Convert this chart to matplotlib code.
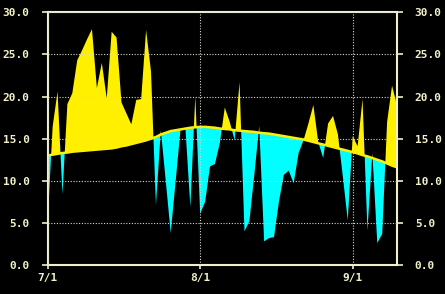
import numpy as np
import matplotlib
matplotlib.use('Agg')
import matplotlib.pyplot as plt

# daily mean temperature, 7/1 .. 9/10 (day index 0 = 7/1)
actual = [5.2, 16.4, 20.6, 8.4, 19.1, 20.4, 24.3, 25.5, 26.8, 28.0,
          21.0, 24.0, 19.8, 27.7, 27.0, 19.3, 18.0, 16.7, 19.6, 19.7,
          27.9, 23.0, 7.1, 16.0, 10.0, 3.8, 9.9, 16.1, 16.2, 6.9,
          20.0, 6.1, 7.5, 11.7, 12.0, 14.5, 18.7, 17.0, 14.8, 21.7,
          4.0, 5.2, 10.7, 16.5, 2.8, 3.2, 3.3, 7.5, 10.7, 11.2,
          9.7, 13.3, 14.8, 16.8, 19.0, 14.6, 12.7, 16.8, 17.7, 15.5,
          10.5, 5.3, 15.3, 14.1, 19.7, 4.1, 13.3, 2.6, 3.7, 17.0,
          21.3, 19.0]

# normal (average year) values
normal = [13.0, 13.1, 13.2, 13.3, 13.35, 13.45, 13.5, 13.55, 13.6, 13.65,
          13.7, 13.75, 13.8, 13.85, 13.95, 14.1, 14.2, 14.35, 14.5, 14.65,
          14.8, 15.0, 15.2, 15.5, 15.7, 15.9, 16.0, 16.1, 16.2, 16.3,
          16.35, 16.4, 16.4, 16.35, 16.3, 16.2, 16.15, 16.1, 16.0, 15.95,
          15.9, 15.85, 15.8, 15.7, 15.65, 15.6, 15.5, 15.4, 15.3, 15.2,
          15.1, 15.0, 14.9, 14.75, 14.6, 14.45, 14.3, 14.15, 14.0, 13.85,
          13.7, 13.55, 13.4, 13.25, 13.05, 12.9, 12.7, 12.5, 12.3, 12.05,
          11.8, 11.6]

xtick_pos = [0, 31, 62]
xtick_labels = ['7/1', '8/1', '9/1']
ytick_vals = [0, 5, 10, 15, 20, 25, 30]

days = np.arange(len(actual))
act = np.array(actual)
nor = np.array(normal)

fg = '#F2F0C8'
yellow = '#FFF000'
cyan = '#00FFFF'

fig = plt.figure(figsize=(4.45, 2.94), dpi=100, facecolor='black')
ax = fig.add_axes([0.1072, 0.0986, 0.7843, 0.8595])
ax.set_facecolor('black')

ax.fill_between(days, nor, act, where=act >= nor, interpolate=True,
                color=yellow, linewidth=0)
ax.fill_between(days, nor, act, where=act <= nor, interpolate=True,
                color=cyan, linewidth=0)
ax.plot(days, nor, color=yellow, linewidth=1.8)

ax.set_xlim(0, 70.95)
ax.set_ylim(0, 30)

ax.set_xticks(xtick_pos)
ax.set_xticklabels(xtick_labels)
ax.set_yticks(ytick_vals)
ax.set_yticklabels(['%.1f' % v for v in ytick_vals])

ax.grid(True, color='#D8D8C8', linestyle=(0, (1, 1.5)), linewidth=0.8)
ax.set_axisbelow(False)

for s in ax.spines.values():
    s.set_color(fg)
    s.set_linewidth(1.5)

ax.tick_params(axis='both', colors=fg, labelsize=8, width=1.2)
ax.tick_params(axis='y', length=4, pad=9, left=True, right=True,
               labelleft=True, labelright=True)
ax.tick_params(axis='x', length=3, pad=3)
for lab in ax.get_xticklabels() + ax.get_yticklabels():
    lab.set_family('DejaVu Sans Mono')
    lab.set_fontweight('bold')
for lab in ax.yaxis.get_ticklabels(which='both'):
    pass
for t in ax.yaxis.get_major_ticks():
    t.label2.set_family('DejaVu Sans Mono')
    t.label2.set_fontweight('bold')

fig.savefig('out.png', dpi=100, facecolor='black')
